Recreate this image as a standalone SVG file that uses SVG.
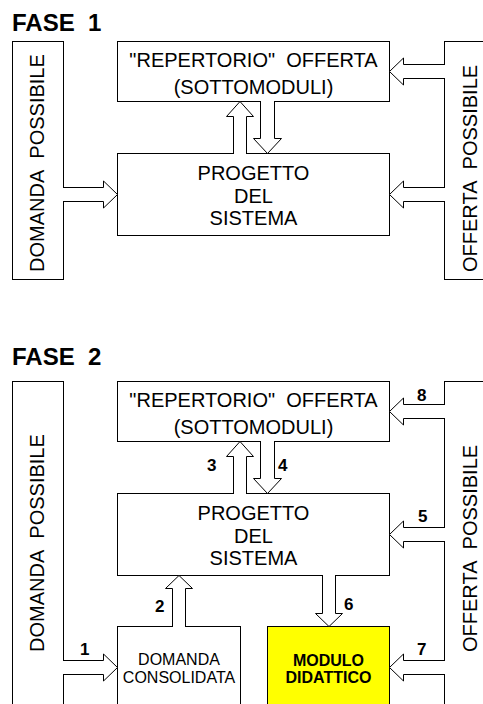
<svg xmlns="http://www.w3.org/2000/svg" width="483" height="704" viewBox="0 0 483 704">
<style>
.box{fill:#fff;stroke:#000;stroke-width:1}
.mod{fill:#ffff00;stroke:#000;stroke-width:1}
.arr{fill:#fff;stroke:#000;stroke-width:1;stroke-linejoin:miter}
text{font-family:"Liberation Sans",Arial,sans-serif;fill:#000}
.t{font-size:20px}
.c{text-anchor:middle}
.s{font-size:16px}
.b{font-weight:bold}
.h{font-size:24px;font-weight:bold}
.n{font-size:17px;font-weight:bold}
</style>
<rect width="483" height="704" fill="#fff"/>

<!-- FASE 1 -->
<text id="title1" class="h" x="12" y="31">FASE&#160; 1</text>
<g id="domanda1">
<rect class="box" x="12.5" y="41.5" width="51" height="238"/>
<text class="t" transform="translate(44,272) rotate(-90)">DOMANDA&#160; POSSIBILE</text>
</g>
<g id="offerta1">
<rect class="box" x="444.5" y="41.5" width="60" height="238"/>
<text class="t" transform="translate(477,272) rotate(-90)">OFFERTA&#160; POSSIBILE</text>
</g>
<g id="repertorio1">
<rect class="box" x="117.5" y="41.5" width="272" height="60"/>
<text class="t c" x="253.5" y="67">"REPERTORIO"&#160; OFFERTA</text>
<text class="t c" x="253.5" y="94">(SOTTOMODULI)</text>
</g>
<g id="progetto1">
<rect class="box" x="117.5" y="153.5" width="272" height="82"/>
<text class="t c" x="253.5" y="180">PROGETTO</text>
<text class="t c" x="253.5" y="202.5">DEL</text>
<text class="t c" x="253.5" y="225">SISTEMA</text>
</g>
<g id="connectors1">
<path class="arr" d="M445 64.5H403.5V58L389.5 71.5L403.5 85V78.5H445"/>
<path class="arr" d="M445 187.5H403.5V181L389.5 194.5L403.5 208V201.5H445"/>
<path class="arr" d="M63 187.5H103.5V181L117.5 194.5L103.5 208V201.5H63"/>
<path class="arr" d="M233.5 154V116.5H226.5L240 101.5L253.5 116.5H246.5V154"/>
<path class="arr" d="M260.5 101V138.5H253.5L267.5 153.5L281.5 138.5H274.5V101"/>
</g>

<!-- FASE 2 -->
<text id="title2" class="h" x="12" y="365">FASE&#160; 2</text>
<g id="domanda2">
<rect class="box" x="12.5" y="381.5" width="51" height="340"/>
<text class="t" transform="translate(44,652) rotate(-90)">DOMANDA&#160; POSSIBILE</text>
</g>
<g id="offerta2">
<rect class="box" x="444.5" y="381.5" width="60" height="340"/>
<text class="t" transform="translate(477,652) rotate(-90)">OFFERTA&#160; POSSIBILE</text>
</g>
<g id="repertorio2">
<rect class="box" x="117.5" y="381.5" width="272" height="60"/>
<text class="t c" x="253.5" y="407">"REPERTORIO"&#160; OFFERTA</text>
<text class="t c" x="253.5" y="434">(SOTTOMODULI)</text>
</g>
<g id="progetto2">
<rect class="box" x="117.5" y="493.5" width="272" height="82"/>
<text class="t c" x="253.5" y="520">PROGETTO</text>
<text class="t c" x="253.5" y="542.5">DEL</text>
<text class="t c" x="253.5" y="565">SISTEMA</text>
</g>
<g id="consolidata">
<rect class="box" x="117.5" y="626.5" width="123" height="100"/>
<text class="s c" x="179" y="665">DOMANDA</text>
<text class="s c" x="179" y="683">CONSOLIDATA</text>
</g>
<g id="modulo">
<rect class="mod" x="267.5" y="626.5" width="122" height="100"/>
<text class="s b c" x="328.5" y="665.5">MODULO</text>
<text class="s b c" x="328.5" y="683">DIDATTICO</text>
</g>
<g id="connectors2">
<path class="arr" d="M445 404.5H403.5V398L389.5 411.5L403.5 425V418.5H445"/>
<path class="arr" d="M445 527.5H403.5V521L389.5 534.5L403.5 548V541.5H445"/>
<path class="arr" d="M445 660.5H403.5V654L389.5 667.5L403.5 681V674.5H445"/>
<path class="arr" d="M63 660.5H103.5V654L117.5 667.5L103.5 681V674.5H63"/>
<path class="arr" d="M233.5 494V456.5H226.5L240 441.5L253.5 456.5H246.5V494"/>
<path class="arr" d="M260.5 441V478.5H253.5L267.5 493.5L281.5 478.5H274.5V441"/>
<path class="arr" d="M172.5 627V588.5H165.5L179 575.5L192.5 588.5H185.5V627"/>
<path class="arr" d="M322.5 575V613.5H315.5L329 626.5L342.5 613.5H335.5V575"/>
<text class="n" x="80" y="655">1</text>
<text class="n" x="155" y="612">2</text>
<text class="n" x="207" y="471">3</text>
<text class="n" x="278" y="471">4</text>
<text class="n" x="418" y="522">5</text>
<text class="n" x="344" y="610">6</text>
<text class="n" x="417" y="655">7</text>
<text class="n" x="417" y="401">8</text>
</g>
</svg>
